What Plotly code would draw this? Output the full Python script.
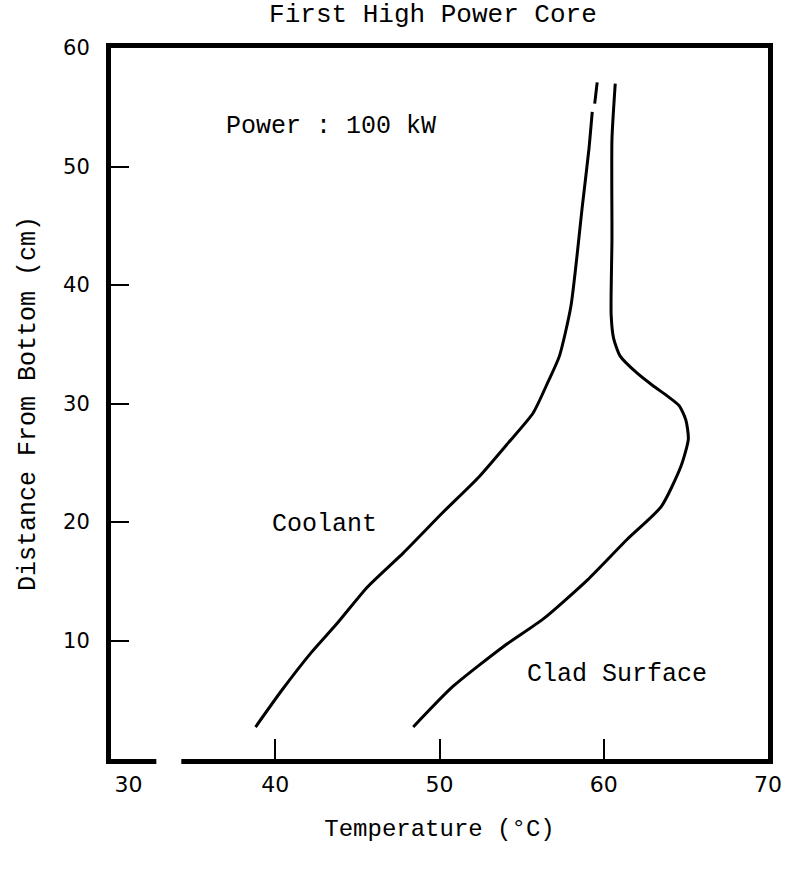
import plotly.graph_objects as go

# Coolant temperature profile (°C) vs distance from bottom (cm)
coolant_temp = [38.8, 40.4, 42.2, 43.8, 45.6, 47.8, 50.2, 52.4, 54.2, 55.7, 56.6, 57.3, 58.0, 58.7, 59.1, 59.3, None, 59.45, 59.6]
coolant_dist = [2.7, 5.8, 9.0, 11.5, 14.5, 17.4, 20.8, 23.8, 26.7, 29.2, 31.8, 34.0, 38.2, 46.7, 51.5, 54.6, None, 55.3, 57.1]

# Clad surface temperature profile
clad_temp = [48.4, 50.8, 53.9, 56.3, 59.0, 61.4, 63.5, 64.7, 65.15, 65.0, 64.6, 63.9, 63.0, 62.0, 61.0, 60.6, 60.45, 60.5, 60.5, 60.7]
clad_dist = [2.7, 6.1, 9.5, 11.8, 15.1, 18.5, 21.3, 24.7, 27.0, 28.6, 29.8, 30.6, 31.5, 32.6, 34.0, 35.5, 37.5, 43.9, 52.3, 57.0]

x_tick_vals = [30, 40, 50, 60, 70]
x_tick_labels = ["\u00a0\u00a0\u00a0\u00a0\u00a030", "40", "50", "60", "70"]
x_mark_vals = [40, 50, 60]
y_tick_vals = [10, 20, 30, 40, 50, 60]
y_tick_labels = ["10", "20", "30", "40", "50", "60"]
y_mark_vals = [10, 20, 30, 40, 50]

MONO = "Liberation Mono, Courier New, monospace"
SANS = "DejaVu Sans, Verdana, sans-serif"

fig = go.Figure()
line_style = dict(color="black", width=3, shape="spline", smoothing=0.6)
fig.add_trace(go.Scatter(x=coolant_temp, y=coolant_dist, mode="lines", line=line_style,
                         connectgaps=False, showlegend=False, hoverinfo="skip"))
fig.add_trace(go.Scatter(x=clad_temp, y=clad_dist, mode="lines", line=line_style,
                         showlegend=False, hoverinfo="skip"))
# invisible trace on overlay axes so they render
fig.add_trace(go.Scatter(x=[None], y=[None], xaxis="x2", yaxis="y2", showlegend=False))

fig.update_layout(
    width=790, height=870,
    margin=dict(l=111, r=8, t=48, b=111),
    paper_bgcolor="white", plot_bgcolor="white",
    title=dict(text="First High Power Core", x=0.49, xanchor="center", xref="paper",
               y=1 - 13 / 870, yanchor="middle", yref="container",
               font=dict(family=MONO, size=26, color="black")),
    xaxis=dict(range=[30, 70], tickmode="array", tickvals=x_tick_vals, ticktext=x_tick_labels,
               ticks="", showgrid=False, zeroline=False, ticklabeloverflow="allow",
               showline=True, linewidth=5, linecolor="black", mirror=True,
               tickfont=dict(family=SANS, size=22, color="black"), ticklabelstandoff=2,
               title=dict(text="Temperature (°C)", standoff=24,
                          font=dict(family=MONO, size=24, color="black"))),
    yaxis=dict(range=[0, 60], tickmode="array", tickvals=y_tick_vals, ticktext=y_tick_labels,
               ticks="", showgrid=False, zeroline=False,
               showline=True, linewidth=5, linecolor="black", mirror=True,
               tickfont=dict(family=SANS, size=21, color="black"), ticklabelstandoff=12,
               title=dict(text="Distance From Bottom (cm)", standoff=22,
                          font=dict(family=MONO, size=25, color="black"))),
    xaxis2=dict(range=[30, 70], overlaying="x", side="bottom", tickmode="array",
                tickvals=x_mark_vals, ticks="inside", ticklen=20, tickwidth=2, tickcolor="black",
                showticklabels=False, showgrid=False, zeroline=False, showline=False),
    yaxis2=dict(range=[0, 60], overlaying="y", side="left", tickmode="array",
                tickvals=y_mark_vals, ticks="inside", ticklen=18, tickwidth=2, tickcolor="black",
                showticklabels=False, showgrid=False, zeroline=False, showline=False),
    annotations=[
        dict(x=36.9, y=53.4, xref="x", yref="y", text="Power : 100 kW", showarrow=False,
             xanchor="left", yanchor="middle", font=dict(family=MONO, size=25, color="black")),
        dict(x=39.7, y=19.8, xref="x", yref="y", text="Coolant", showarrow=False,
             xanchor="left", yanchor="middle", font=dict(family=MONO, size=25, color="black")),
        dict(x=55.2, y=7.1, xref="x", yref="y", text="Clad Surface", showarrow=False,
             xanchor="left", yanchor="middle", font=dict(family=MONO, size=25, color="black")),
    ],
    shapes=[
        # break in the bottom frame line, as in the scanned original
        dict(type="rect", xref="paper", yref="paper", x0=0.069, x1=0.107, y0=-0.008, y1=0.008,
             fillcolor="white", line=dict(width=0), layer="above"),
    ],
)

fig.write_html("out.html")
